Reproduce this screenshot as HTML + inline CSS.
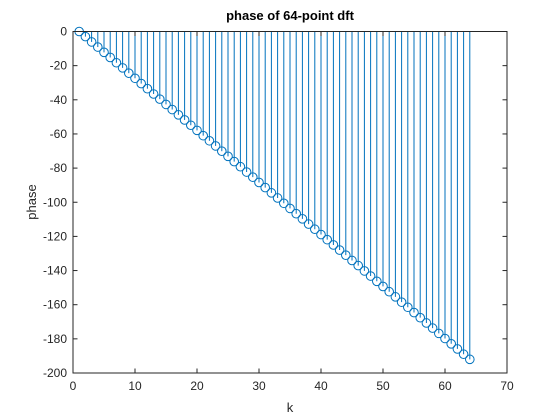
<!DOCTYPE html>
<html><head><meta charset="utf-8"><style>
body{margin:0;background:#fff;width:560px;height:420px;overflow:hidden}
svg{display:block;font-family:"Liberation Sans",sans-serif}
</style></head><body>
<svg id="chart" width="560" height="420">
<rect x="0" y="0" width="560" height="420" fill="#fff"/>
<text x="290" y="20" text-anchor="middle" font-size="13" font-weight="bold" fill="#000">phase of 64-point dft</text>
<g id="marks"></g>
<g id="axes"></g>
<text x="290" y="412" text-anchor="middle" font-size="13" fill="#262626">k</text>
<text transform="translate(36,202) rotate(-90)" text-anchor="middle" font-size="13" fill="#262626">phase</text>
</svg>
<script>
const kValues=[1,2,3,4,5,6,7,8,9,10,11,12,13,14,15,16,17,18,19,20,21,22,23,24,25,26,27,28,29,30,31,32,33,34,35,36,37,38,39,40,41,42,43,44,45,46,47,48,49,50,51,52,53,54,55,56,57,58,59,60,61,62,63,64];
const phaseValues=[0,-3.0,-6.1,-9.1,-12.2,-15.2,-18.3,-21.3,-24.4,-27.4,-30.5,-33.5,-36.6,-39.6,-42.7,-45.7,-48.8,-51.8,-54.9,-57.9,-61.0,-64.0,-67.0,-70.1,-73.1,-76.2,-79.2,-82.3,-85.3,-88.4,-91.4,-94.5,-97.5,-100.6,-103.6,-106.7,-109.7,-112.8,-115.8,-118.9,-121.9,-125.0,-128.0,-131.0,-134.1,-137.1,-140.2,-143.2,-146.3,-149.3,-152.4,-155.4,-158.5,-161.5,-164.6,-167.6,-170.7,-173.7,-176.8,-179.8,-182.9,-185.9,-189.0,-192.0];
const xTicks=[0,10,20,30,40,50,60,70];
const yTicks=[0,-20,-40,-60,-80,-100,-120,-140,-160,-180,-200];
const L=73,R=507,T=31.5,B=373;
const sx=v=>L+(v-0)/(70-0)*(R-L);
const sy=v=>T+(0-v)/(200)*(B-T);
const NS="http://www.w3.org/2000/svg";
const marks=document.getElementById('marks'),axes=document.getElementById('axes');
function mk(tag,at,p){const e=document.createElementNS(NS,tag);for(const k in at)e.setAttribute(k,at[k]);p.appendChild(e);return e;}
kValues.forEach((k,i)=>{
  const ln=mk('line',{x1:sx(k),x2:sx(k),y1:sy(0),y2:sy(phaseValues[i]),stroke:'#0072BD','stroke-width':1},marks);
  
  
  const c=mk('circle',{cx:sx(k),cy:sy(phaseValues[i]),r:4.3,fill:'none',stroke:'#0072BD','stroke-width':1},marks);
  
  
});
const box=mk('rect',{x:L,y:T,width:R-L,height:B-T,fill:'none',stroke:'#262626','stroke-width':1},axes);


xTicks.forEach(v=>{
  const x=sx(v);
  mk('line',{x1:x,x2:x,y1:B,y2:B-4.5,stroke:'#262626'},axes);
  mk('line',{x1:x,x2:x,y1:T,y2:T+4.5,stroke:'#262626'},axes);
  const t=mk('text',{x:x,y:B+17,'text-anchor':'middle','font-size':12,fill:'#262626'},axes);
  t.textContent=v;
  
  
});
yTicks.forEach(v=>{
  const y=sy(v);
  mk('line',{x1:L,x2:L+4.5,y1:y,y2:y,stroke:'#262626'},axes);
  mk('line',{x1:R,x2:R-4.5,y1:y,y2:y,stroke:'#262626'},axes);
  const t=mk('text',{x:L-6,y:y+4,'text-anchor':'end','font-size':12,fill:'#262626'},axes);
  t.textContent=v;
  
  
});
</script>
</body></html>
